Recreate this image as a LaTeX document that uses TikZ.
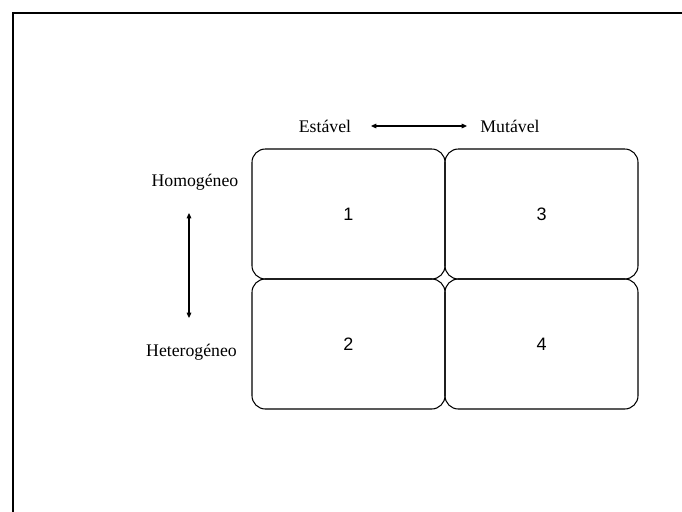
\documentclass[tikz,border=0pt]{standalone}
\usepackage{fontspec}
\setmainfont{Liberation Serif}
\newfontfamily\digitfont{Liberation Sans}
\usetikzlibrary{arrows.meta}
\begin{document}
\begin{tikzpicture}[x=0.75pt,y=-0.75pt,
  cell/.style={draw=black,line width=0.8pt,rounded corners=10pt,minimum width=144.75pt,minimum height=97.5pt,inner sep=0pt,font=\digitfont\fontsize{13.5}{15}\selectfont},
  lab/.style={font=\fontsize{13.3}{15}\selectfont,inner sep=0pt},
  dbl/.style={line width=0.8pt,{Triangle[length=4pt,width=3.5pt]}-{Triangle[length=4pt,width=3.5pt]}}]
\useasboundingbox (0,0) rectangle (682,511);
\draw[line width=1.3pt] (13,520) -- (13,13) -- (690,13);
\node[cell] (c1) at (348.5,214) {1};
\node[cell] (c3) at (541.5,214) {3};
\node[cell] (c2) at (348.5,344) {2};
\node[cell] (c4) at (541.5,344) {4};
\node[lab] (est) at (325,126) {Estável};
\node[lab] (mut) at (510,126) {Mutável};
\node[lab] (hom) at (195,182) {Homogéneo};
\node[lab] (het) at (191.5,352) {Heterogéneo};
\coordinate (h1) at (371,126);
\coordinate (h2) at (467,126);
\coordinate (v1) at (189,213);
\coordinate (v2) at (189,318);
\draw[dbl] (h1) -- (h2);
\draw[dbl] (v1) -- (v2);
\end{tikzpicture}
\end{document}
